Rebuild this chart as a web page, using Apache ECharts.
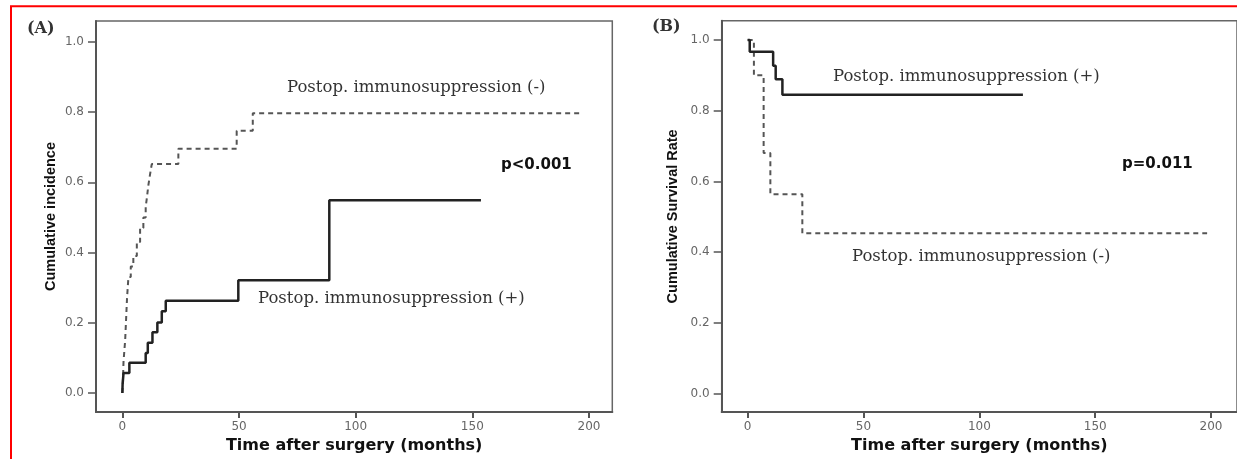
<!DOCTYPE html>
<html>
<head>
<meta charset="utf-8">
<script src="https://cdn.jsdelivr.net/npm/echarts@6/dist/echarts.min.js"></script>
<style>
  html, body { margin: 0; padding: 0; background: #fff; }
  #main { width: 1237px; height: 459px; }
</style>
</head>
<body>
<div id="main"></div>
<script>
// tick labels
const xTicks = [0, 50, 100, 150, 200]
const yTicks = [0, 0.2, 0.4, 0.6, 0.8, 1.0]

// (A) cumulative incidence, postop immunosuppression (+)
const incPosTime = [0, 0.1, 0.5, 3.0, 10.0, 10.9, 12.9, 15.0, 16.9, 18.6, 49.7, 88.7, 153.7]
const incPosVal = [0, 0.024, 0.057, 0.086, 0.114, 0.143, 0.173, 0.201, 0.233, 0.263, 0.321, 0.549, 0.549]
// (A) cumulative incidence, postop immunosuppression (-)
const incNegTime = [0, 0.2, 0.5, 1.2, 1.6, 2.0, 2.6, 3.6, 4.7, 6.2, 7.6, 9.0, 10.0, 10.6, 11.1, 11.8, 12.6, 24.0, 49.0, 55.9, 196.9]
const incNegVal = [0, 0.03, 0.09, 0.15, 0.21, 0.27, 0.33, 0.36, 0.39, 0.43, 0.47, 0.50, 0.53, 0.56, 0.59, 0.62, 0.652, 0.696, 0.747, 0.797, 0.797]

// (B) survival, postop immunosuppression (+)
const survPosTime = [0, 0.9, 11.0, 12.1, 15.0, 118.8]
const survPosVal = [1, 0.967, 0.927, 0.889, 0.845, 0.845]
// (B) survival, postop immunosuppression (-)
const survNegTime = [0, 2.7, 6.9, 9.8, 23.6, 198.3]
const survNegVal = [1, 0.9, 0.68, 0.564, 0.453, 0.453]

const zip = (t, v) => t.map((x, i) => [x, v[i]])

const tickFont = { color: '#666', fontSize: 12, fontFamily: 'DejaVu Sans' }
const serif = 'DejaVu Serif'

function xAxisFor(gridIndex, min, max) {
  return {
    type: 'value',
    gridIndex: gridIndex,
    min: min,
    max: max,
    name: 'Time after surgery (months)',
    nameLocation: 'middle',
    nameGap: 25,
    nameTextStyle: { color: '#111', fontSize: 16, fontWeight: 'bold', fontFamily: 'DejaVu Sans' },
    axisLine: { onZero: false, lineStyle: { color: '#555', width: 2 } },
    axisTick: { show: true, length: 6, lineStyle: { color: '#555', width: 2 }, customValues: xTicks },
    axisLabel: Object.assign({ margin: 9, customValues: xTicks }, tickFont),
    splitLine: { show: false }
  }
}

function yAxisFor(gridIndex, min, max, name, gap) {
  return {
    type: 'value',
    gridIndex: gridIndex,
    min: min,
    max: max,
    name: name,
    nameLocation: 'middle',
    nameGap: gap,
    nameTextStyle: { color: '#111', fontSize: 14.5, fontWeight: 'bold', fontFamily: 'Liberation Sans' },
    axisLine: { show: true, onZero: false, lineStyle: { color: '#555', width: 2 } },
    axisTick: { show: true, length: 8, lineStyle: { color: '#555', width: 1.5 }, customValues: yTicks },
    axisLabel: Object.assign({ margin: 12, customValues: yTicks, formatter: v => v.toFixed(1) }, tickFont),
    splitLine: { show: false }
  }
}

const solid = { color: '#222', width: 2.5, type: 'solid' }
const dashed = { color: '#555', width: 2, type: [5, 4] }

function km(name, data, xi, style) {
  return {
    name: name,
    type: 'line',
    step: 'end',
    xAxisIndex: xi,
    yAxisIndex: xi,
    showSymbol: false,
    symbol: 'none',
    lineStyle: style,
    itemStyle: { color: style.color },
    data: data
  }
}

const option = {
  animation: false,
  backgroundColor: '#fff',
  grid: [
    { left: 96, top: 21, width: 516.3, height: 391.7, show: true, borderColor: '#666', borderWidth: 1.5, backgroundColor: 'transparent' },
    { left: 721.7, top: 20.7, width: 522, height: 391.3, show: true, borderColor: '#666', borderWidth: 1.5, backgroundColor: 'transparent' }
  ],
  xAxis: [
    xAxisFor(0, -11.3, 210),
    xAxisFor(1, -11.2, 211.2)
  ],
  yAxis: [
    yAxisFor(0, -0.0546, 1.0597, 'Cumulative incidence', 38),
    yAxisFor(1, -0.0523, 1.0546, 'Cumulative Survival Rate', 41)
  ],
  series: [
    km('Postop. immunosuppression (-)', zip(incNegTime, incNegVal), 0, dashed),
    km('Postop. immunosuppression (+)', zip(incPosTime, incPosVal), 0, solid),
    km('Postop. immunosuppression (-)', zip(survNegTime, survNegVal), 1, dashed),
    km('Postop. immunosuppression (+)', zip(survPosTime, survPosVal), 1, solid)
  ],
  graphic: [
    {
      type: 'rect',
      shape: { x: 11, y: 6.2, width: 1300, height: 500 },
      style: { fill: 'none', stroke: '#ff0000', lineWidth: 2 },
      silent: true
    },
    { type: 'text', x: 27, y: 29, style: { text: '(A)', font: 'bold 16px "DejaVu Serif"', fill: '#333', textVerticalAlign: 'middle' } },
    { type: 'text', x: 652, y: 27, style: { text: '(B)', font: 'bold 16px "DejaVu Serif"', fill: '#333', textVerticalAlign: 'middle' } },
    { type: 'text', x: 287, y: 88, style: { text: 'Postop. immunosuppression (-)', font: '16.5px "' + serif + '"', fill: '#333', textVerticalAlign: 'middle' } },
    { type: 'text', x: 501, y: 165, style: { text: 'p<0.001', font: 'bold 15px "DejaVu Sans"', fill: '#111', textVerticalAlign: 'middle' } },
    { type: 'text', x: 258, y: 299, style: { text: 'Postop. immunosuppression (+)', font: '16.5px "' + serif + '"', fill: '#333', textVerticalAlign: 'middle' } },
    { type: 'text', x: 833, y: 77, style: { text: 'Postop. immunosuppression (+)', font: '16.5px "' + serif + '"', fill: '#333', textVerticalAlign: 'middle' } },
    { type: 'text', x: 1122, y: 164, style: { text: 'p=0.011', font: 'bold 15px "DejaVu Sans"', fill: '#111', textVerticalAlign: 'middle' } },
    { type: 'text', x: 852, y: 257, style: { text: 'Postop. immunosuppression (-)', font: '16.5px "' + serif + '"', fill: '#333', textVerticalAlign: 'middle' } }
  ]
}

const myChart = echarts.init(document.getElementById('main'))
myChart.setOption(option, true)
window.addEventListener('resize', () => {
  myChart.resize()
})
</script>
</body>
</html>
